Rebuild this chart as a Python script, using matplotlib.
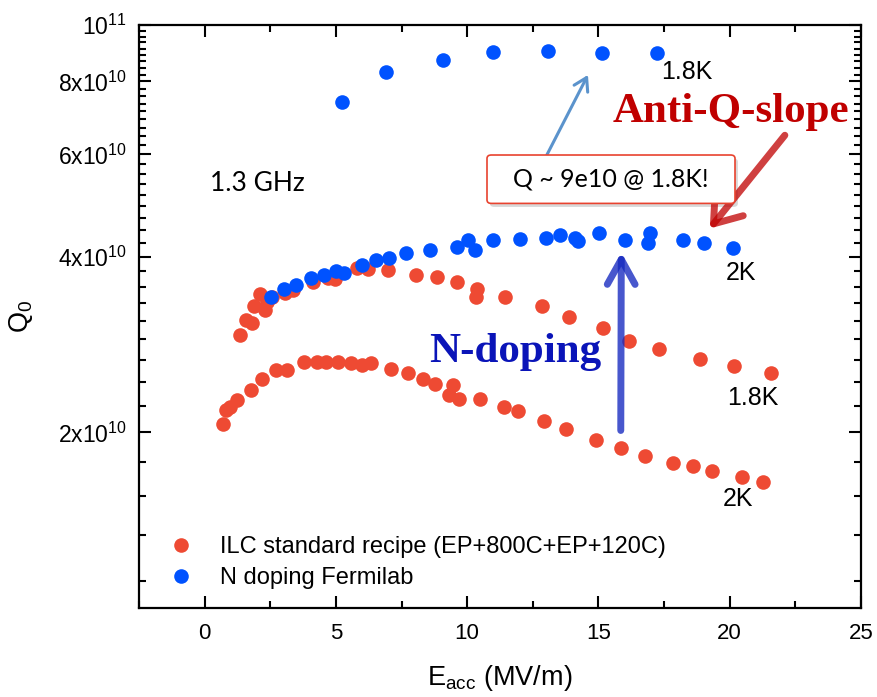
import numpy as np
import matplotlib
matplotlib.use("Agg")
import matplotlib.pyplot as plt
from matplotlib.ticker import FixedLocator, FixedFormatter, MultipleLocator, NullFormatter
from matplotlib.patches import FancyArrowPatch, FancyBboxPatch
from matplotlib.lines import Line2D

plt.rcParams['font.family'] = ['Liberation Sans', 'DejaVu Sans']
plt.rcParams['mathtext.fontset'] = 'custom'
plt.rcParams['mathtext.rm'] = 'Liberation Sans'
plt.rcParams['mathtext.it'] = 'Liberation Sans:italic'
plt.rcParams['mathtext.bf'] = 'Liberation Sans:bold'

# ---------------- data (E_acc in MV/m, Q0 in units of 1e10) ----------------
blue_18K_E = [5.25, 6.90, 9.08, 11.0, 13.06, 15.12, 17.23]
blue_18K_Q = [7.39, 8.29, 8.70, 8.99, 9.02, 8.94, 8.97]

blue_2K_E = [2.51, 3.01, 3.47, 4.04, 4.53, 4.99, 5.30, 5.98, 6.51, 7.01, 7.66, 8.57,
             9.60, 10.02, 10.29, 10.97, 12.00, 12.99, 13.52, 14.10, 14.21, 15.01,
             16.00, 16.88, 16.95, 18.21, 19.01, 20.11]
blue_2K_Q = [3.42, 3.52, 3.58, 3.68, 3.72, 3.78, 3.75, 3.87, 3.95, 3.98, 4.06, 4.12,
             4.16, 4.27, 4.12, 4.27, 4.29, 4.32, 4.36, 4.32, 4.26, 4.39,
             4.27, 4.22, 4.39, 4.27, 4.22, 4.14]

red_18K_E = [1.33, 1.56, 1.79, 1.87, 2.10, 2.29, 2.36, 2.55, 3.05, 3.35, 4.11, 4.69,
             4.95, 5.79, 6.21, 6.97, 8.04, 8.84, 9.60, 10.32, 10.36, 11.43, 12.84,
             13.87, 15.16, 16.15, 17.30, 18.86, 20.15, 21.56]
red_18K_Q = [2.935, 3.113, 3.088, 3.29, 3.45, 3.24, 3.345, 3.41, 3.465, 3.51, 3.62, 3.68,
             3.66, 3.83, 3.81, 3.80, 3.72, 3.69, 3.62, 3.42, 3.52, 3.42, 3.29,
             3.15, 3.02, 2.87, 2.78, 2.67, 2.60, 2.53]

red_2K_E = [0.69, 0.80, 0.95, 1.22, 1.75, 2.17, 2.70, 3.12, 3.77, 4.27, 4.61, 5.07,
            5.56, 5.98, 6.32, 7.09, 7.73, 8.30, 8.76, 9.30, 9.45, 9.68, 10.48, 11.39,
            11.92, 12.91, 13.75, 14.90, 15.85, 16.76, 17.83, 18.59, 19.31, 20.46, 21.26]
red_2K_Q = [2.065, 2.19, 2.215, 2.27, 2.37, 2.475, 2.555, 2.565, 2.64, 2.64, 2.64, 2.64,
            2.63, 2.61, 2.63, 2.575, 2.525, 2.475, 2.42, 2.315, 2.41, 2.28, 2.28, 2.21,
            2.175, 2.09, 2.025, 1.94, 1.88, 1.826, 1.77, 1.755, 1.715, 1.68, 1.647]

legend_labels = ["ILC standard recipe (EP+800C+EP+120C)", "N doping Fermilab"]
y_major = [2e10, 4e10, 6e10, 8e10, 1e11]
y_major_labels = [r'$\mathdefault{2x10^{10}}$', r'$\mathdefault{4x10^{10}}$',
                  r'$\mathdefault{6x10^{10}}$', r'$\mathdefault{8x10^{10}}$',
                  r'$\mathdefault{10^{11}}$']

RED = '#EE4A33'
BLUE = '#0052FF'
SCALE = 1e10

fig = plt.figure(figsize=(8.77, 6.97), dpi=100)
ax = fig.add_axes([0.15849, 0.12769, 0.82326, 0.83644])

ms = 10.5
ax.plot(red_18K_E, np.array(red_18K_Q) * SCALE, 'o', color=RED, ms=ms, mew=0, zorder=3)
ax.plot(red_2K_E, np.array(red_2K_Q) * SCALE, 'o', color=RED, ms=ms, mew=0, zorder=3)
ax.plot(blue_2K_E, np.array(blue_2K_Q) * SCALE, 'o', color=BLUE, ms=ms, mew=0, zorder=4)
ax.plot(blue_18K_E, np.array(blue_18K_Q) * SCALE, 'o', color=BLUE, ms=ms, mew=0, zorder=4)

ax.set_yscale('log')
ax.set_xlim(-2.5, 25)
ax.set_ylim(1e10, 1e11)

ax.xaxis.set_major_locator(MultipleLocator(5))
ax.xaxis.set_minor_locator(MultipleLocator(2.5))
ax.yaxis.set_major_locator(FixedLocator(y_major))
ax.yaxis.set_major_formatter(FixedFormatter(y_major_labels))
y_minor = [i * 2e10 / 9 for i in range(1, 46) if i % 9 and 1e10 <= i * 2e10 / 9 <= 1e11]
ax.yaxis.set_minor_locator(FixedLocator(y_minor))
ax.yaxis.set_minor_formatter(NullFormatter())

for s in ax.spines.values():
    s.set_linewidth(1.6)
ax.tick_params(which='both', direction='in', top=True, right=True, width=1.5)
ax.tick_params(axis='x', labelsize=16, pad=10.5)
ax.tick_params(axis='y', labelsize=16.5, pad=9)
ax.tick_params(which='major', length=8.5)
ax.tick_params(which='minor', length=5)

ax.set_xlabel(r'E$_{\mathrm{acc}}$ (MV/m)', fontsize=19.5, labelpad=14)
ax.set_ylabel(r'Q$_0$', fontsize=19.5, labelpad=16)

# legend
h_red = Line2D([], [], marker='o', ls='none', color=RED, ms=ms, mew=0)
h_blue = Line2D([], [], marker='o', ls='none', color=BLUE, ms=ms, mew=0)
ax.legend([h_red, h_blue], legend_labels, loc='center left',
          bbox_to_anchor=(0.0414, 0.078), frameon=False, fontsize=17,
          handlelength=1.0, handletextpad=1.17, labelspacing=0.36,
          borderpad=0, borderaxespad=0, numpoints=1)

# text annotations
ax.text(0.19, 5.355e10, '1.3 GHz', fontsize=19, family='Lato', va='center', ha='left')
ax.text(17.4, 8.29e10, '1.8K', fontsize=18, va='center', ha='left')
ax.text(19.85, 3.758e10, '2K', fontsize=18, va='center', ha='left')
ax.text(19.91, 2.293e10, '1.8K', fontsize=18, va='center', ha='left')
ax.text(19.72, 1.539e10, '2K', fontsize=18, va='center', ha='left')
ax.text(20.04, 6.823e10, 'Anti-Q-slope', fontsize=31, family='Liberation Serif',
        weight='bold', color='#C00000', ha='center', va='baseline', zorder=6)
ax.text(11.83, 2.641e10, 'N-doping', fontsize=31, family='Liberation Serif',
        weight='bold', color='#0A14B8', ha='center', va='baseline', zorder=6)

# callout box
shadow = FancyBboxPatch((0.486, 0.688), 0.3435, 0.083,
                        boxstyle='round,pad=0,rounding_size=0.006',
                        transform=ax.transAxes, fc='#D8D8D8', ec='none', zorder=5)
box = FancyBboxPatch((0.482, 0.694), 0.3435, 0.083,
                     boxstyle='round,pad=0,rounding_size=0.006',
                     transform=ax.transAxes, fc='white', ec='#E8432F', lw=1.2, zorder=6)
ax.add_patch(shadow)
ax.add_patch(box)
ax.text(0.654, 0.7355, 'Q ~ 9e10 @ 1.8K!', transform=ax.transAxes, fontsize=18,
        family='Lato', ha='center', va='center', zorder=7)

# arrows
a1 = FancyArrowPatch((13.03, 5.98e10), (14.6, 8.21e10), transform=ax.transData,
                     arrowstyle='->,head_length=0.9,head_width=0.55', mutation_scale=10,
                     lw=2.2, color='#5B93CC', shrinkA=0, shrinkB=0, zorder=5)
a2 = FancyArrowPatch((22.1, 6.47e10), (19.24, 4.477e10), transform=ax.transData,
                     arrowstyle='->,head_length=1.8,head_width=1.3', mutation_scale=10,
                     lw=5, color='#C00000', alpha=0.75, shrinkA=0, shrinkB=0,
                     capstyle='round', zorder=5)
a3 = FancyArrowPatch((15.85, 2.016e10), (15.87, 4.076e10), transform=ax.transData,
                     arrowstyle='->,head_length=1.8,head_width=1.0', mutation_scale=10,
                     lw=5, color='#1428C0', alpha=0.78, shrinkA=0, shrinkB=0,
                     capstyle='round', zorder=5)
for a in (a1, a2, a3):
    ax.add_patch(a)

fig.savefig('out.png', dpi=100)
